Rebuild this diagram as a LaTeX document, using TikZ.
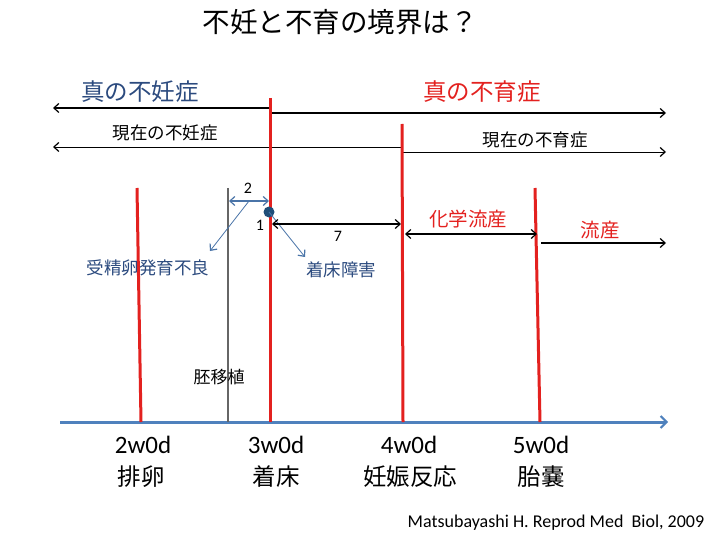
\documentclass[tikz,border=0pt]{standalone}
\usepackage{fontspec}
\setmainfont{Carlito}
\newfontfamily\jp{Noto Sans CJK JP}
\usetikzlibrary{arrows.meta}
\definecolor{myred}{HTML}{E3211F}
\definecolor{navy}{HTML}{2B4A7E}
\definecolor{axisblue}{HTML}{4F81BD}
\definecolor{steel}{HTML}{4A74A8}
\definecolor{dotblue}{HTML}{1F4E79}
\begin{document}
\begin{tikzpicture}[x=1pt,y=-1pt,
  redline/.style={draw=myred,line width=3pt},
  barb/.style={-{Straight Barb[length=5pt,width=9pt,line width=1.2pt]}},
  dbarb/.style={{Straight Barb[length=5pt,width=9pt,line width=1.2pt]}-{Straight Barb[length=5pt,width=9pt,line width=1.2pt]}},
  lbl/.style={inner sep=0pt,anchor=center},
  fs/.style={font=\jp\fontsize{#1}{#1}\selectfont}
]
\useasboundingbox (0,0) rectangle (720,540);
% title
\node[lbl,fs=27.5] (title) at (340,22) {不妊と不育の境界は？};
% coordinates for vertical lines
\coordinate (r2t) at (137,188); \coordinate (r2b) at (141,422);
\coordinate (r3t) at (270,98);  \coordinate (r3b) at (270,422);
\coordinate (r4t) at (402,124); \coordinate (r4b) at (403,422);
\coordinate (r5t) at (535,188); \coordinate (r5b) at (540,422);
\coordinate (gt) at (228,188);  \coordinate (gb) at (228,422);
% top arrows
\coordinate (s1) at (270,108); \coordinate (e1) at (53,108);
\coordinate (s2) at (270,113); \coordinate (e2) at (666,113);
\draw[line width=2pt,barb] (s1) -- (e1);
\draw[line width=2pt,barb] (s2) -- (e2);
\node[lbl,fs=23.5,text=navy] (shinfunin) at (140,92) {真の不妊症};
\node[lbl,fs=23.5,text=myred] (shinfuiku) at (482,92) {真の不育症};
% current arrows
\coordinate (s3) at (402,147); \coordinate (e3) at (53,147);
\coordinate (s4) at (402,152); \coordinate (e4) at (666,152);
\draw[line width=0.8pt,barb] (s3) -- (e3);
\draw[line width=0.8pt,barb] (s4) -- (e4);
\node[lbl,fs=17.5] (genfunin) at (165,133) {現在の不妊症};
\node[lbl,fs=17.5] (genfuiku) at (535,140) {現在の不育症};
% axis
\coordinate (ax0) at (60,422); \coordinate (ax1) at (668,422);
\draw[draw=axisblue,line width=3pt,-{Straight Barb[length=6pt,width=12pt,line width=2pt]}] (ax0) -- (ax1);
% vertical lines
\draw[draw=gray!80!black,line width=1.3pt] (gt) -- (gb);
\draw[redline] (r2t) -- (r2b);
\draw[redline] (r3t) -- (r3b);
\draw[redline] (r4t) -- (r4b);
\draw[redline] (r5t) -- (r5b);
% interval 2
\coordinate (a2l) at (229,201); \coordinate (a2r) at (269,201); \coordinate (a2m) at (249,201);
\draw[draw=steel,line width=1.5pt,dbarb] (a2l) -- (a2r);
\node[lbl,font=\fontsize{16}{16}\selectfont] (two) at (248,188) {2};
\node[lbl,fs=17.5,text=navy] (jusei) at (148,268) {受精卵発育不良};
\coordinate (jtip) at (210,251);
\draw[draw=steel,line width=0.8pt,barb] (a2m) -- (jtip);
% dot
\node[circle,fill=dotblue,minimum size=11pt,inner sep=0pt] (dot) at (269,212) {};
\node[lbl,font=\fontsize{16}{16}\selectfont] (one) at (260,225) {1};
\coordinate (ctip) at (305,257);
\draw[draw=steel,line width=0.8pt,barb] (dot.center) -- (ctip);
\node[lbl,fs=17.5,text=navy] (chakushou) at (341,270) {着床障害};
% interval 7
\coordinate (a7l) at (272,224); \coordinate (a7r) at (401,224);
\draw[line width=1.5pt,dbarb] (a7l) -- (a7r);
\node[lbl,font=\fontsize{16}{16}\selectfont] (seven) at (338,236) {7};
% chemical miscarriage
\coordinate (akl) at (405,234); \coordinate (akr) at (537,234);
\draw[line width=1.5pt,dbarb] (akl) -- (akr);
\node[lbl,fs=19.5,text=myred] (kagaku) at (468,219) {化学流産};
\coordinate (ars) at (541,243); \coordinate (are) at (666,243);
\draw[line width=1.5pt,barb] (ars) -- (are);
\node[lbl,fs=19.5,text=myred] (ryuzan) at (600,230) {流産};
% embryo transfer
\node[lbl,fs=17] (haiishoku) at (219,377) {胚移植};
% bottom labels
\node[lbl,font=\fontsize{25}{25}\selectfont] (w2) at (143,445) {2w0d};
\node[lbl,font=\fontsize{25}{25}\selectfont] (w3) at (276,445) {3w0d};
\node[lbl,font=\fontsize{25}{25}\selectfont] (w4) at (409,445) {4w0d};
\node[lbl,font=\fontsize{25}{25}\selectfont] (w5) at (541,445) {5w0d};
\node[lbl,fs=23.5] (hairan) at (141,477) {排卵};
\node[lbl,fs=23.5] (chaku) at (276,477) {着床};
\node[lbl,fs=23.5] (ninshin) at (410,477) {妊娠反応};
\node[lbl,fs=23.5] (taino) at (541,477) {胎嚢};
% citation
\node[lbl,font=\fontsize{18}{18}\selectfont] (cite) at (556,523) {Matsubayashi H. Reprod Med\ \ Biol, 2009};
\end{tikzpicture}
\end{document}
